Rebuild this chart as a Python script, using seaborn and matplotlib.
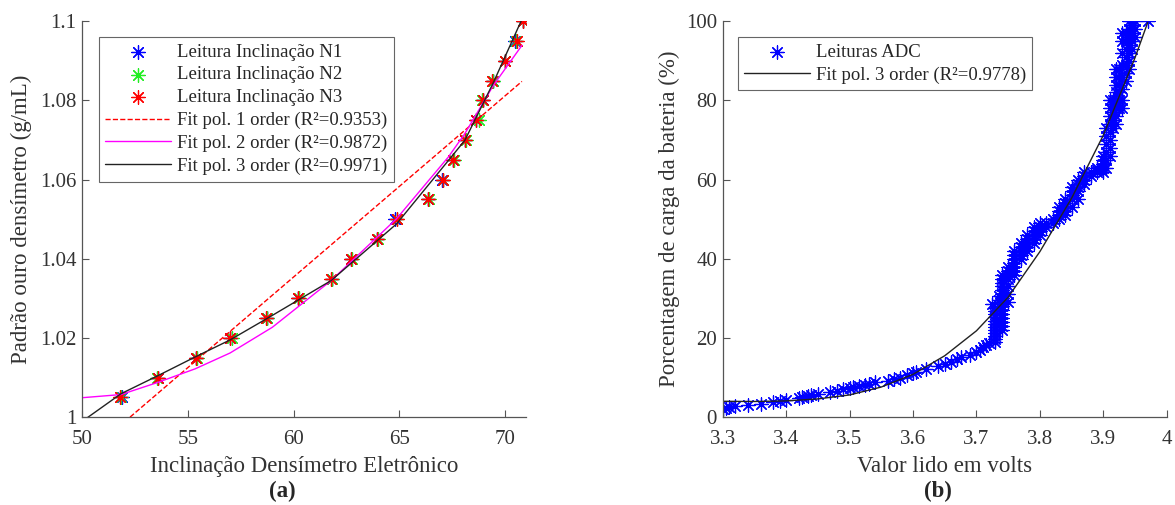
import numpy as np
import pandas as pd
import seaborn as sns
import matplotlib.pyplot as plt
from matplotlib.ticker import FormatStrFormatter

# ---- data (a): density readings ----
dens_y = [1.005, 1.010, 1.015, 1.020, 1.025, 1.030, 1.035, 1.040, 1.045, 1.050,
          1.055, 1.060, 1.065, 1.070, 1.075, 1.080, 1.085, 1.090, 1.095, 1.100]
incl_n1 = [51.9, 53.6, 55.4, 57.0, 58.75, 60.2, 61.8, 62.7, 63.95, 64.8,
           66.35, 67.0, 67.55, 68.1, 68.65, 68.95, 69.45, 70.0, 70.45, 70.85]
incl_n2 = [51.85, 53.55, 55.45, 57.1, 58.75, 60.25, 61.8, 62.75, 64.0, 64.9,
           66.4, 67.05, 67.6, 68.15, 68.75, 68.9, 69.45, 70.0, 70.5, 70.85]
incl_n3 = [51.8, 53.6, 55.4, 57.0, 58.7, 60.2, 61.75, 62.7, 63.95, 64.9,
           66.35, 67.05, 67.55, 68.1, 68.65, 68.95, 69.4, 70.0, 70.55, 70.85]

# fitted curves
fit1_x = [52.27, 70.8]
fit1_y = [1.0, 1.0848]
fit_x = [50.0, 51.84, 53.6, 55.35, 57.0, 59.0, 61.78, 64.87, 67.32, 68.1, 69.45, 70.8]
fit2_y = [1.0049, 1.0057, 1.0088, 1.0122, 1.0162, 1.0227, 1.0345, 1.0501, 1.0657,
          1.0716, 1.0838, 1.0939]
fit3_y = [0.9989, 1.0059, 1.0105, 1.0152, 1.0195, 1.0257, 1.0345, 1.0488, 1.0648,
          1.0699, 1.0845, 1.1005]
fit_labels_a = ['Fit pol. 1 order (R\u00b2=0.9353)',
                'Fit pol. 2 order (R\u00b2=0.9872)',
                'Fit pol. 3 order (R\u00b2=0.9971)']

# ---- data (b): ADC readings (volts, %) ----
adc_volts = [3.300, 3.305, 3.310, 3.320, 3.340, 3.360, 3.380, 3.390, 3.400, 3.420,
             3.425, 3.435, 3.440, 3.450, 3.470, 3.480, 3.490, 3.500, 3.505, 3.515,
             3.525, 3.530, 3.540, 3.560, 3.570, 3.580, 3.590, 3.600, 3.605, 3.620,
             3.640, 3.650, 3.660, 3.670, 3.675, 3.690, 3.700, 3.705, 3.710, 3.715,
             3.720,
             3.730, 3.730, 3.730, 3.730, 3.730, 3.730, 3.730, 3.730, 3.730, 3.730,
             3.730, 3.730, 3.725, 3.735, 3.735,
             3.740, 3.740, 3.740, 3.740, 3.740, 3.740, 3.740, 3.740, 3.740, 3.740,
             3.740, 3.740, 3.740, 3.740, 3.740,
             3.750, 3.750, 3.750, 3.750, 3.750, 3.750, 3.750,
             3.760, 3.760, 3.760, 3.760, 3.760, 3.760, 3.760,
             3.770, 3.770, 3.770, 3.770, 3.770,
             3.780, 3.780, 3.780, 3.780, 3.780,
             3.790, 3.790, 3.790, 3.790, 3.790,
             3.800, 3.800, 3.800, 3.800,
             3.810, 3.810, 3.820, 3.820,
             3.830, 3.830, 3.830, 3.830,
             3.840, 3.840, 3.840, 3.840, 3.840,
             3.850, 3.850, 3.850, 3.850, 3.850,
             3.860, 3.860, 3.860, 3.860, 3.860,
             3.870, 3.870, 3.870, 3.870, 3.880, 3.880,
             3.890, 3.890, 3.890,
             3.900, 3.900, 3.900, 3.900, 3.900,
             3.905, 3.905, 3.905, 3.905, 3.905, 3.905,
             3.910, 3.910, 3.910, 3.910, 3.910, 3.910, 3.910, 3.910,
             3.915, 3.915, 3.915, 3.915, 3.915,
             3.920, 3.920, 3.920, 3.920, 3.920, 3.920, 3.920, 3.920,
             3.925, 3.925, 3.925, 3.925, 3.925, 3.925,
             3.930, 3.930, 3.930, 3.930, 3.930, 3.930, 3.930, 3.930,
             3.935, 3.935, 3.935, 3.935, 3.935, 3.935, 3.935,
             3.940, 3.940, 3.940, 3.940, 3.940, 3.940, 3.940,
             3.945, 3.945, 3.945, 3.945, 3.945,
             3.950, 3.950, 3.950,
             3.970]
adc_pct = [2.1, 2.3, 2.6, 2.8, 3.1, 3.4, 3.7, 4.0, 4.3, 4.9,
           5.0, 5.4, 5.6, 5.9, 6.4, 6.7, 7.0, 7.3, 7.5, 7.9,
           8.2, 8.4, 8.8, 9.2, 9.6, 10.0, 10.6, 11.2, 11.5, 12.2,
           13.0, 13.5, 14.0, 14.8, 15.3, 15.8, 16.4, 17.0, 17.6, 18.2,
           18.8,
           19.0, 19.8, 20.5, 21.3, 22.0, 22.8, 23.6, 24.4, 25.2, 26.0,
           26.8, 27.6, 28.5, 29.5, 30.5,
           22, 23, 24, 25, 26, 27, 28, 29, 30, 31,
           32, 33, 34, 35, 36,
           29, 31, 33, 35, 36, 37, 38,
           36, 37, 38, 39, 40, 41, 42,
           40, 41, 42, 43, 44,
           42, 43, 44, 45, 46,
           44, 45, 46, 47, 48,
           46, 47, 48, 49,
           48, 49, 49, 50,
           50, 51, 52, 53,
           51, 52, 53, 54, 55,
           53, 55, 56, 57, 58,
           55, 57, 58, 59, 60,
           59, 60, 61, 62, 61, 62,
           62, 62.5, 63,
           62, 63, 64, 65, 66,
           63, 65, 67, 69, 71, 73,
           66, 68, 70, 72, 74, 76, 78, 80,
           73, 75, 77, 79, 80,
           74, 76, 78, 80, 82, 84, 86, 88,
           78, 80, 82, 84, 86, 88,
           78, 80, 83, 86, 89, 92, 95, 97,
           85, 87, 89, 91, 93, 95, 97,
           88, 90, 92, 94, 96, 98, 100,
           93, 95, 97, 99, 100,
           96, 98, 100,
           100]
# 3rd order fit
fit_b_v = [3.30, 3.35, 3.40, 3.45, 3.50, 3.55, 3.60, 3.65, 3.70, 3.75,
           3.80, 3.85, 3.90, 3.95, 3.97]
fit_b_pct = [4.0, 3.95, 4.1, 4.6, 5.6, 7.6, 10.8, 15.5, 21.8, 30.3,
             41.8, 55.3, 71.2, 90.8, 99.7]
fit_label_b = 'Fit pol. 3 order (R\u00b2=0.9778)'

sns.set_theme(style="ticks")
plt.rcParams['font.family'] = ['Liberation Serif', 'DejaVu Serif']
plt.rcParams['axes.edgecolor'] = '#555555'
plt.rcParams['xtick.color'] = '#555555'
plt.rcParams['ytick.color'] = '#555555'
plt.rcParams['xtick.labelcolor'] = '#333333'
plt.rcParams['ytick.labelcolor'] = '#333333'
plt.rcParams['xtick.direction'] = 'in'
plt.rcParams['ytick.direction'] = 'in'

star = (8, 2, 0)
leg_kw = dict(loc='upper left', fontsize=13.5, frameon=True, fancybox=False,
              edgecolor='#666666', framealpha=1, handlelength=3.5,
              handletextpad=0.3, labelspacing=0.3, borderpad=0.35,
              borderaxespad=0)

fig = plt.figure(figsize=(11.75, 5.05), dpi=100)
ax1 = fig.add_axes([0.0698, 0.174, 0.378, 0.784])
ax2 = fig.add_axes([0.615, 0.174, 0.378, 0.784])

# ---- (a) ----
for xs, col, lab in [(incl_n1, 'blue', 'Leitura Inclinação N1'),
                     (incl_n2, '#22ee22', 'Leitura Inclinação N2'),
                     (incl_n3, 'red', 'Leitura Inclinação N3')]:
    sns.scatterplot(x=xs, y=dens_y, ax=ax1, marker=star, s=95, color=col,
                    edgecolor=col, linewidth=0.9, label=lab, legend=False)

fits = [(fit1_x, fit1_y, dict(color='red', linestyle='--', linewidth=1.0)),
        (fit_x, fit2_y, dict(color='magenta', linestyle='-', linewidth=1.0)),
        (fit_x, fit3_y, dict(color='#222222', linestyle='-', linewidth=1.0))]
for (fx, fy, st), lab in zip(fits, fit_labels_a):
    df = pd.DataFrame({'x': fx, 'y': fy})
    sns.lineplot(data=df, x='x', y='y', ax=ax1, label=lab, legend=False,
                 sort=False, **st)

ax1.set_xlim(50, 71)
ax1.set_ylim(1.0, 1.1)
ax1.set_xticks([50, 55, 60, 65, 70])
ax1.set_yticks([1.0, 1.02, 1.04, 1.06, 1.08, 1.1])
ax1.yaxis.set_major_formatter(FormatStrFormatter('%g'))
ax1.set_xlabel('Inclinação Densímetro Eletrônico', fontsize=16.5, color='#333333', labelpad=5)
ax1.set_ylabel('Padrão ouro densímetro (g/mL)', fontsize=16.5, color='#333333', labelpad=6)
leg1 = ax1.legend(bbox_to_anchor=(0.038, 0.96), **leg_kw)
leg1.get_frame().set_linewidth(0.8)
fig.text(0.24, 0.026, '(a)', fontsize=16.5, fontweight='bold', ha='center', va='center')

# ---- (b) ----
sns.scatterplot(x=adc_volts, y=adc_pct, ax=ax2, marker=star, s=90, color='blue',
                edgecolor='blue', linewidth=0.9, label='Leituras ADC', legend=False)
dfb = pd.DataFrame({'x': fit_b_v, 'y': fit_b_pct})
sns.lineplot(data=dfb, x='x', y='y', ax=ax2, color='#222222', linewidth=1.0,
             label=fit_label_b, legend=False, sort=False)

ax2.set_xlim(3.3, 4.0)
ax2.set_ylim(0, 100)
ax2.set_xticks([3.3, 3.4, 3.5, 3.6, 3.7, 3.8, 3.9, 4.0])
ax2.set_yticks([0, 20, 40, 60, 80, 100])
ax2.xaxis.set_major_formatter(FormatStrFormatter('%g'))
ax2.set_xlabel('Valor lido em volts', fontsize=16.5, color='#333333', labelpad=5)
ax2.set_ylabel('Porcentagem de carga da bateria (%)', fontsize=16.5, color='#333333', labelpad=4)
leg2 = ax2.legend(bbox_to_anchor=(0.034, 0.96), **leg_kw)
leg2.get_frame().set_linewidth(0.8)
fig.text(0.798, 0.026, '(b)', fontsize=16.5, fontweight='bold', ha='center', va='center')

for ax in (ax1, ax2):
    sns.despine(ax=ax)
    ax.tick_params(labelsize=15, length=5, width=0.8)
    ax.tick_params(axis='x', pad=9)
    ax.tick_params(axis='y', pad=4)
    for sp in ax.spines.values():
        sp.set_linewidth(0.9)

fig.savefig('out.png', dpi=100)
